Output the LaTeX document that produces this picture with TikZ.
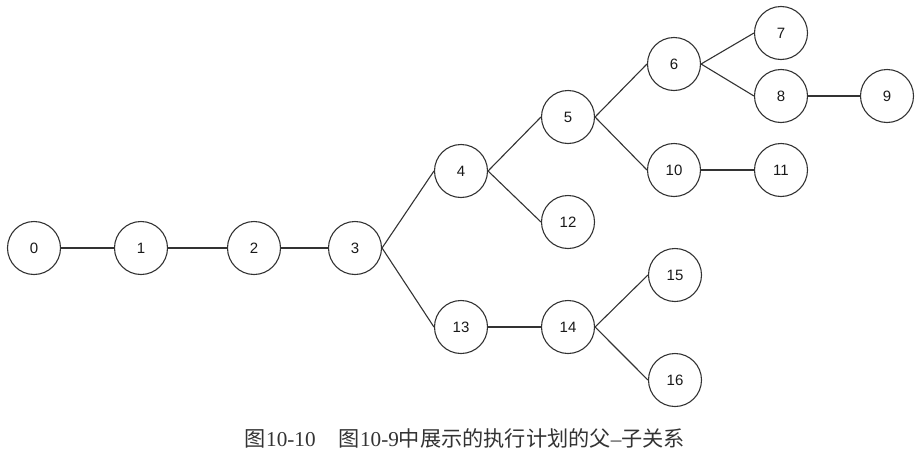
\documentclass[tikz,border=0pt]{standalone}
\usepackage{fontspec}
\setmainfont{Liberation Sans}
\newfontfamily\cjk{Noto Sans CJK SC}
\newfontfamily\serifdigits{Liberation Serif}
\begin{document}
\begin{tikzpicture}[x=1pt,y=-1pt,
  vtx/.style={circle,draw=black!80,line width=1.1pt,minimum size=53pt,inner sep=0pt,font=\fontsize{15}{15}\selectfont,text=black!90},
  edge/.style={draw=black!80,line width=1.1pt}]
\useasboundingbox (0,0) rectangle (921,458);
\node[vtx] (n0) at (34,248) {0};
\node[vtx] (n1) at (141,248) {1};
\node[vtx] (n2) at (254,248) {2};
\node[vtx] (n3) at (355,248) {3};
\node[vtx] (n4) at (461,171) {4};
\node[vtx] (n5) at (568,117) {5};
\node[vtx] (n6) at (674,64) {6};
\node[vtx] (n7) at (781,33) {7};
\node[vtx] (n8) at (781,96) {8};
\node[vtx] (n9) at (887,96) {9};
\node[vtx] (n10) at (674,170) {10};
\node[vtx] (n11) at (781,170) {11};
\node[vtx] (n12) at (568,222) {12};
\node[vtx] (n13) at (461,327) {13};
\node[vtx] (n14) at (568,327) {14};
\node[vtx] (n15) at (675,275) {15};
\node[vtx] (n16) at (675,380) {16};
\foreach \a/\b in {n0/n1,n1/n2,n2/n3,n3/n4,n3/n13,n4/n5,n4/n12,n5/n6,n5/n10,n6/n7,n6/n8,n8/n9,n10/n11,n13/n14,n14/n15,n14/n16}
  \draw[edge] (\a.east) -- (\b.west);
\node[inner sep=0pt,text=black!80] (cap) at (465,438) {\resizebox{440pt}{!}{\fontsize{15}{15}\selectfont\cjk 图{\serifdigits 10-10}\hspace{1.1em}图{\serifdigits 10-9}中展示的执行计划的父{\serifdigits –}子关系}};
\end{tikzpicture}
\end{document}
